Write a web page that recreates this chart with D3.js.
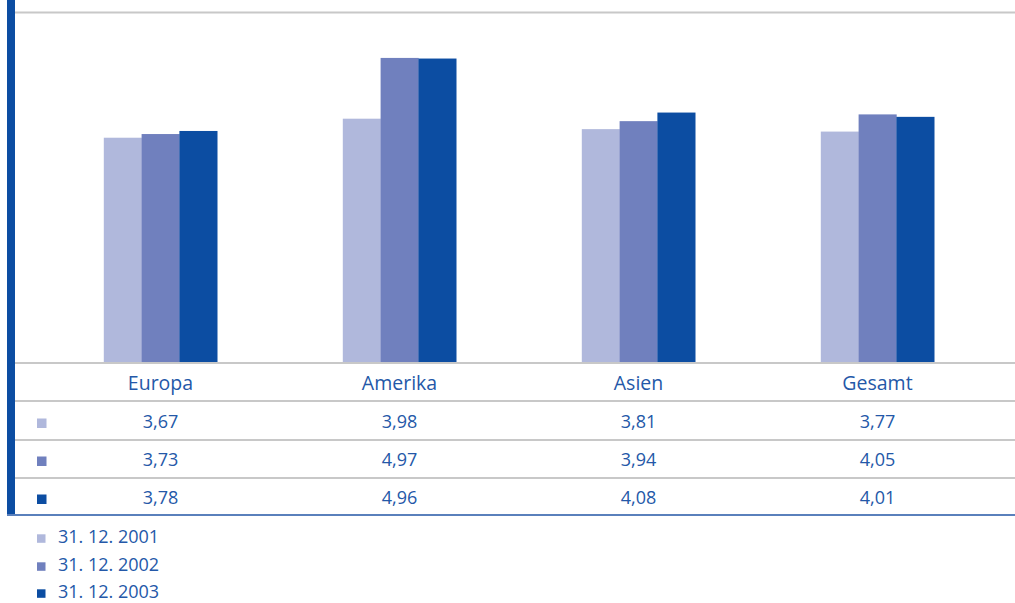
<!DOCTYPE html>
<html>
<head>
<meta charset="utf-8">
<script src="https://cdn.jsdelivr.net/npm/d3@7"></script>
<style>
  html, body { margin: 0; padding: 0; background: #fff; }
  svg { display: block; }
  text { font-family: "Open Sans", "Noto Sans", sans-serif; fill: #2458a8; }
</style>
</head>
<body>
<svg id="chart" width="1015" height="603"></svg>
<script>
// Regions and the three reporting dates
const regions = ["Europa", "Amerika", "Asien", "Gesamt"];
const dates = ["31. 12. 2001", "31. 12. 2002", "31. 12. 2003"];
const values2001 = [3.67, 3.98, 3.81, 3.77];
const values2002 = [3.73, 4.97, 3.94, 4.05];
const values2003 = [3.78, 4.96, 4.08, 4.01];
const colors = ["#b0b8dc", "#7080be", "#0c4da2"];

const series = [values2001, values2002, values2003];
const fmt = v => d3.format(".2f")(v).replace(".", ",");

const svg = d3.select("#chart");
const W = 1015;

const x = d3.scaleBand().domain(regions).range([41, 997]).padding(0);
const inner = d3.scaleBand().domain(d3.range(series.length)).range([0, 113.4]);
const y = d3.scaleLinear().domain([0, 5.71]).range([363, 12.5]);

const gridColor = "#c8c8c8";

// top frame line
svg.append("line").attr("x1", 15).attr("x2", W).attr("y1", y(5.71)).attr("y2", y(5.71))
  .attr("stroke", gridColor).attr("stroke-width", 2);

// bars
const groups = svg.append("g").selectAll("g").data(regions).join("g")
  .attr("transform", r => `translate(${x(r) + x.bandwidth() / 2 - inner.range()[1] / 2},0)`);
groups.selectAll("rect")
  .data((r, i) => series.map((s, k) => ({ k, v: s[i] })))
  .join("rect")
  .attr("x", d => inner(d.k))
  .attr("width", inner.bandwidth() + 0.3)
  .attr("y", d => y(d.v))
  .attr("height", d => y(0) - y(d.v))
  .attr("fill", d => colors[d.k]);

// baseline and table row rules
const rules = [363, 401, 440, 478];
svg.append("g").selectAll("line").data(rules).join("line")
  .attr("x1", 15).attr("x2", W).attr("y1", d => d).attr("y2", d => d)
  .attr("stroke", gridColor).attr("stroke-width", 2);

// bottom rule of the table
svg.append("line").attr("x1", 7).attr("x2", W).attr("y1", 515).attr("y2", 515)
  .attr("stroke", "#5a80bc").attr("stroke-width", 2);

// left accent bar
svg.append("rect").attr("x", 7).attr("y", 0).attr("width", 8).attr("height", 514)
  .attr("fill", "#0c4da2");

// category labels
svg.append("g").selectAll("text").data(regions).join("text")
  .attr("x", r => x(r) + x.bandwidth() / 2)
  .attr("y", 390)
  .attr("text-anchor", "middle")
  .attr("font-size", 19.5)
  .text(r => r);

// value table
const rowBase = [428, 466, 504];
series.forEach((s, k) => {
  svg.append("rect").attr("x", 37).attr("y", rowBase[k] - 9.5).attr("width", 9.5).attr("height", 9.5)
    .attr("fill", colors[k]);
  svg.append("g").selectAll("text").data(regions).join("text")
    .attr("x", r => x(r) + x.bandwidth() / 2)
    .attr("y", rowBase[k])
    .attr("text-anchor", "middle")
    .attr("font-size", 18)
    .text((r, i) => fmt(s[i]));
});

// legend
const legBase = [543, 571, 598];
dates.forEach((d, k) => {
  svg.append("rect").attr("x", 37).attr("y", legBase[k] - 8.7).attr("width", 8.5).attr("height", 8.5)
    .attr("fill", colors[k]);
  svg.append("text").attr("x", 58).attr("y", legBase[k]).attr("font-size", 18).text(d);
});
</script>
</body>
</html>
